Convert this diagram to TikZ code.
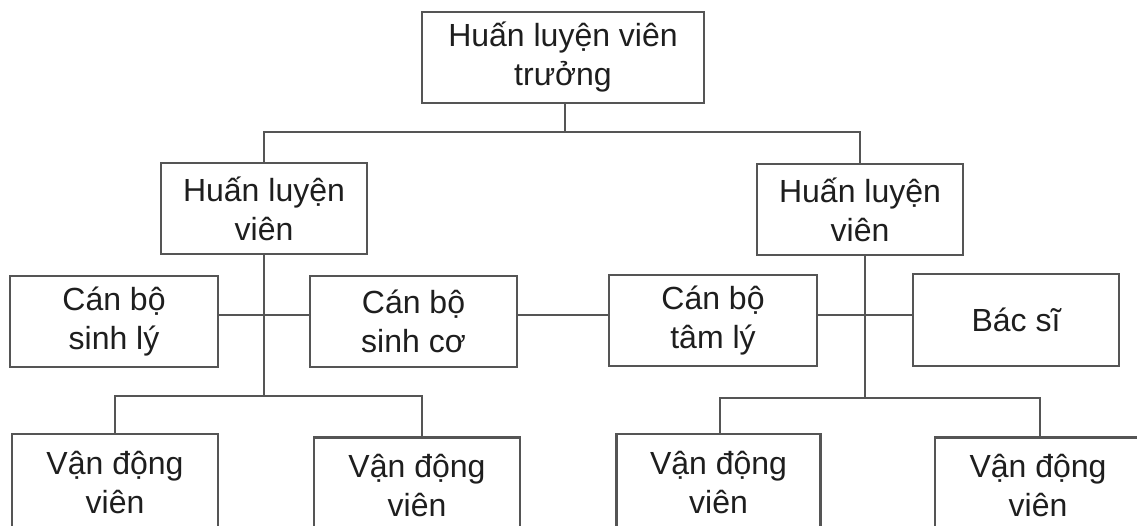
\documentclass[tikz,border=0pt]{standalone}
\usepackage{fontspec}
\setmainfont{Liberation Sans}
\definecolor{edge}{RGB}{85,85,85}
\definecolor{ink}{RGB}{30,30,30}
\begin{document}
\begin{tikzpicture}[x=1pt,y=-1pt,
  box/.style={draw=edge, line width=2.6pt, fill=white, text=ink,
    align=center, inner sep=0pt, minimum height=91pt,
    font=\fontsize{32}{39}\selectfont},
  link/.style={draw=edge, line width=2.6pt}]
\useasboundingbox (0,0) rectangle (1137,525);
\clip (0,0) rectangle (1137,525);
\fill[white] (0,0) rectangle (1137,525);

% head coach and the two coaches
\node[box, minimum width=282pt] (head) at (563,57.5) {Huấn luyện viên\\trưởng};
\node[box, minimum width=206pt] (coachL) at (264,208.5) {Huấn luyện\\viên};
\node[box, minimum width=206pt] (coachR) at (860,209.5) {Huấn luyện\\viên};

% support staff
\node[box, minimum width=208pt] (physio) at (114,321.5) {Cán bộ\\sinh lý};
\node[box, minimum width=207pt] (biomech) at (413.5,321.5) {Cán bộ\\sinh cơ};
\node[box, minimum width=208pt] (psych) at (713,320.5) {Cán bộ\\tâm lý};
\node[box, minimum width=206pt, minimum height=92pt] (doctor) at (1016,320) {Bác sĩ};

% athletes (boxes run past the lower edge)
\node[box, minimum width=206pt, minimum height=96pt] (ath1) at (115,482) {Vận động\\viên};
\node[box, minimum width=206pt, minimum height=96pt] (ath2) at (417,485.5) {Vận động\\viên};
\node[box, minimum width=204pt, minimum height=96pt] (ath3) at (718.5,482) {Vận động\\viên};
\node[box, minimum width=206pt, minimum height=96pt] (ath4) at (1038,485.5) {Vận động\\viên};

% bus lines
\coordinate (topbus) at (565,132);
\coordinate (busL) at (264,396);
\coordinate (busR) at (865,398);

% head coach to coaches
\draw[link] ([xshift=2pt]head.south) -- ([xshift=2pt]head.south |- topbus);
\draw[link] (coachL.north) -- (coachL.north |- topbus) -- (coachR.north |- topbus) -- (coachR.north);

% coaches down to the athletes' buses
\draw[link] (coachL.south) -- (busL);
\draw[link] (coachR.south -| busR) -- (busR);

% staff row
\draw[link] ([yshift=6.5pt]physio.east) -- ([yshift=6.5pt]biomech.west);
\draw[link] ([yshift=6.5pt]biomech.east) -- ([yshift=5.5pt]psych.west);
\draw[link] ([yshift=5.5pt]psych.east) -- ([yshift=5pt]doctor.west);

% athletes' buses
\draw[link] (ath1.north) -- (ath1.north |- busL) -- ([xshift=5pt]ath2.north |- busL) -- ([xshift=5pt]ath2.north);
\draw[link] ([xshift=1.5pt]ath3.north) -- ([xshift=1.5pt]ath3.north |- busR) -- ([xshift=2pt]ath4.north |- busR) -- ([xshift=2pt]ath4.north);
\end{tikzpicture}
\end{document}
